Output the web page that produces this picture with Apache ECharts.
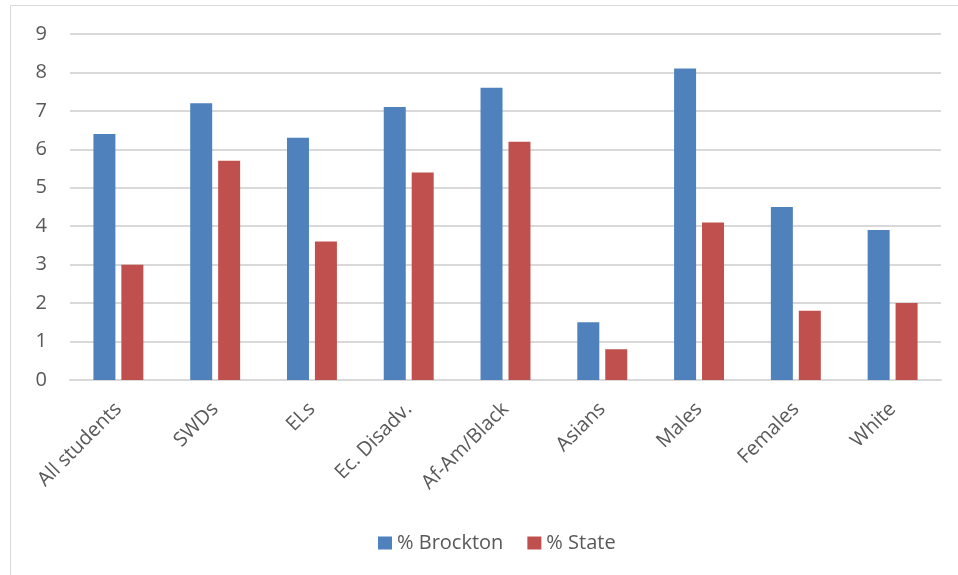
<!DOCTYPE html>
<html>
<head>
<meta charset="utf-8">
<script src="https://cdn.jsdelivr.net/npm/echarts@6/dist/echarts.min.js"></script>
<style>
  html, body { margin: 0; padding: 0; background: #fff; }
  #main { width: 958px; height: 575px; }
</style>
</head>
<body>
<div id="main"></div>
<script>
// categories and values
var categories = ['All students', 'SWDs', 'ELs', 'Ec. Disadv.', 'Af-Am/Black', 'Asians', 'Males', 'Females', 'White'];
var brockton = [6.4, 7.2, 6.3, 7.1, 7.6, 1.5, 8.1, 4.5, 3.9];
var state = [3.0, 5.7, 3.6, 5.4, 6.2, 0.8, 4.1, 1.8, 2.0];
var yTicks = [0, 1, 2, 3, 4, 5, 6, 7, 8, 9];

var myChart = echarts.init(document.getElementById('main'));
var font = '"Open Sans", sans-serif';

var option = {
    animation: false,
    backgroundColor: '#fff',
    textStyle: { fontFamily: font },
    // light frame of the chart area (top and left edges)
    graphic: [
        { type: 'line', shape: { x1: 10.5, y1: 5.5, x2: 958, y2: 5.5 }, style: { stroke: '#d9d9d9', lineWidth: 1 } },
        { type: 'line', shape: { x1: 10.5, y1: 5.5, x2: 10.5, y2: 575 }, style: { stroke: '#d9d9d9', lineWidth: 1 } }
    ],
    grid: { left: 70, right: 17, top: 34, bottom: 195 },
    legend: {
        bottom: 17,
        left: 373,
        itemWidth: 14,
        itemHeight: 13,
        itemGap: 24,
        icon: 'rect',
        textStyle: { color: '#595959', fontSize: 20, fontFamily: font, padding: [0, 0, 0, 0] },
        data: ['% Brockton', '% State']
    },
    xAxis: {
        type: 'category',
        data: categories,
        axisLine: { lineStyle: { color: '#d9d9d9', width: 2 } },
        axisTick: { show: false },
        axisLabel: {
            rotate: 45,
            color: '#595959',
            fontSize: 20,
            fontFamily: font,
            margin: 26,
            interval: 0
        }
    },
    yAxis: {
        type: 'value',
        min: yTicks[0],
        max: yTicks[yTicks.length - 1],
        interval: 1,
        axisLine: { show: false },
        axisTick: { show: false },
        axisLabel: { color: '#595959', fontSize: 20, fontFamily: font, margin: 23 },
        splitLine: { lineStyle: { color: '#d9d9d9', width: 2 } }
    },
    series: [
        {
            name: '% Brockton',
            type: 'bar',
            data: brockton,
            barWidth: 22,
            barGap: '27%',
            itemStyle: { color: '#4f81bd' }
        },
        {
            name: '% State',
            type: 'bar',
            data: state,
            barWidth: 22,
            itemStyle: { color: '#c0504d' }
        }
    ]
};

myChart.setOption(option);
window.addEventListener('resize', function () {
    myChart.resize();
});
</script>
</body>
</html>
